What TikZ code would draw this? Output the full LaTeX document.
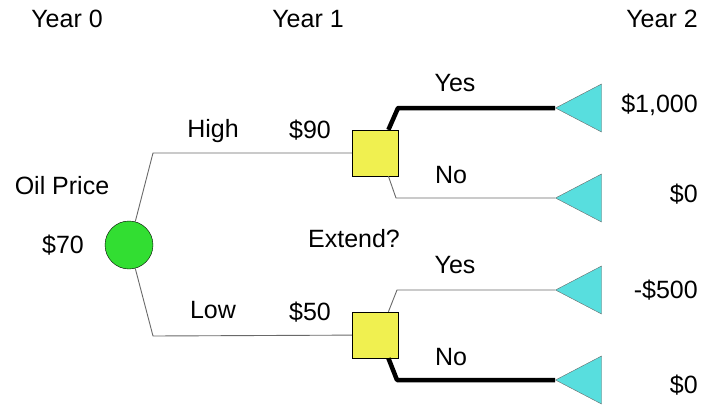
\documentclass[tikz,border=0pt]{standalone}
\usepackage{fontspec}
\setmainfont{Liberation Sans}
\usepackage{color}
\definecolor{mygreen}{RGB}{50,222,50}
\definecolor{myyellow}{RGB}{240,240,80}
\definecolor{mycyan}{RGB}{88,222,222}
\definecolor{mygray}{RGB}{105,105,105}
\usepackage{tikz}
\usetikzlibrary{calc,shapes.geometric,positioning}
\tikzstyle{chance}=[draw,fill=mygreen,circle,minimum size=48pt,inner sep=0pt]
\tikzstyle{decision}=[draw,fill=myyellow,rectangle,minimum size=46pt,inner sep=0pt]
\tikzstyle{payoff}=[draw=mygray,fill=mycyan,isosceles triangle,shape border rotate=180,
  isosceles triangle stretches,minimum width=48pt,minimum height=46pt,inner sep=0pt,anchor=apex]
\tikzstyle{branch}=[draw=mygray,line width=0.9pt]
\tikzstyle{best}=[draw=black,line width=4.5pt,line join=round]
\tikzstyle{lbl}=[anchor=base,inner sep=0pt]

\begin{document}
\begin{tikzpicture}[x=1pt,y=-1pt,font=\fontsize{25}{29}\selectfont]
\useasboundingbox (0,0) rectangle (705,405);
% headings
\node[lbl] (y0) at (67,27) {Year 0};
\node[lbl] (y1) at (308,27) {Year 1};
\node[lbl] (y2) at (662,27) {Year 2};
% nodes
\node[chance] (c0) at (129,245) {};
\node[decision] (d1) at (375,153) {};
\node[decision] (d2) at (375,335) {};
\node[payoff] (t1) at (555,108) {};
\node[payoff] (t2) at (555,198) {};
\node[payoff] (t3) at (555,290) {};
\node[payoff] (t4) at (555,380) {};
% elbows
\coordinate (e1) at (153,153);
\coordinate (e2) at (153,336);
\coordinate (e3) at (398,108);
\coordinate (e4) at (396,198);
\coordinate (e5) at (397,290);
\coordinate (e6) at (397,380);
% branches
\draw[branch] (c0.75) -- (e1) -- (d1);
\draw[branch] (c0.-75) -- (e2) -- (d2);
\draw[best] (d1.60) -- (e3) -- (t1.apex);
\draw[branch] (d1.-60) -- (e4) -- (t2.apex);
\draw[branch] (d2.60) -- (e5) -- (t3.apex);
\draw[best] (d2.-60) -- (e6) -- (t4.apex);
% labels
\node[lbl] (oil) at (62,194) {Oil Price};
\node[lbl] (p0) at (63,253) {\$70};
\node[lbl] (hi) at (213,137) {High};
\node[lbl] (p1) at (310,138) {\$90};
\node[lbl] (lo) at (213,318) {Low};
\node[lbl] (p2) at (310,320) {\$50};
\node[lbl] (ext) at (354,247) {Extend?};
\node[lbl] (yes1) at (455,91) {Yes};
\node[lbl] (no1) at (451,183) {No};
\node[lbl] (yes2) at (455,273) {Yes};
\node[lbl] (no2) at (451,365) {No};
\node[lbl,anchor=base east] (v1) at (698,112) {\$1,000};
\node[lbl,anchor=base east] (v2) at (698,202) {\$0};
\node[lbl,anchor=base east] (v3) at (698,298) {-\$500};
\node[lbl,anchor=base east] (v4) at (698,393) {\$0};
\end{tikzpicture}
\end{document}
